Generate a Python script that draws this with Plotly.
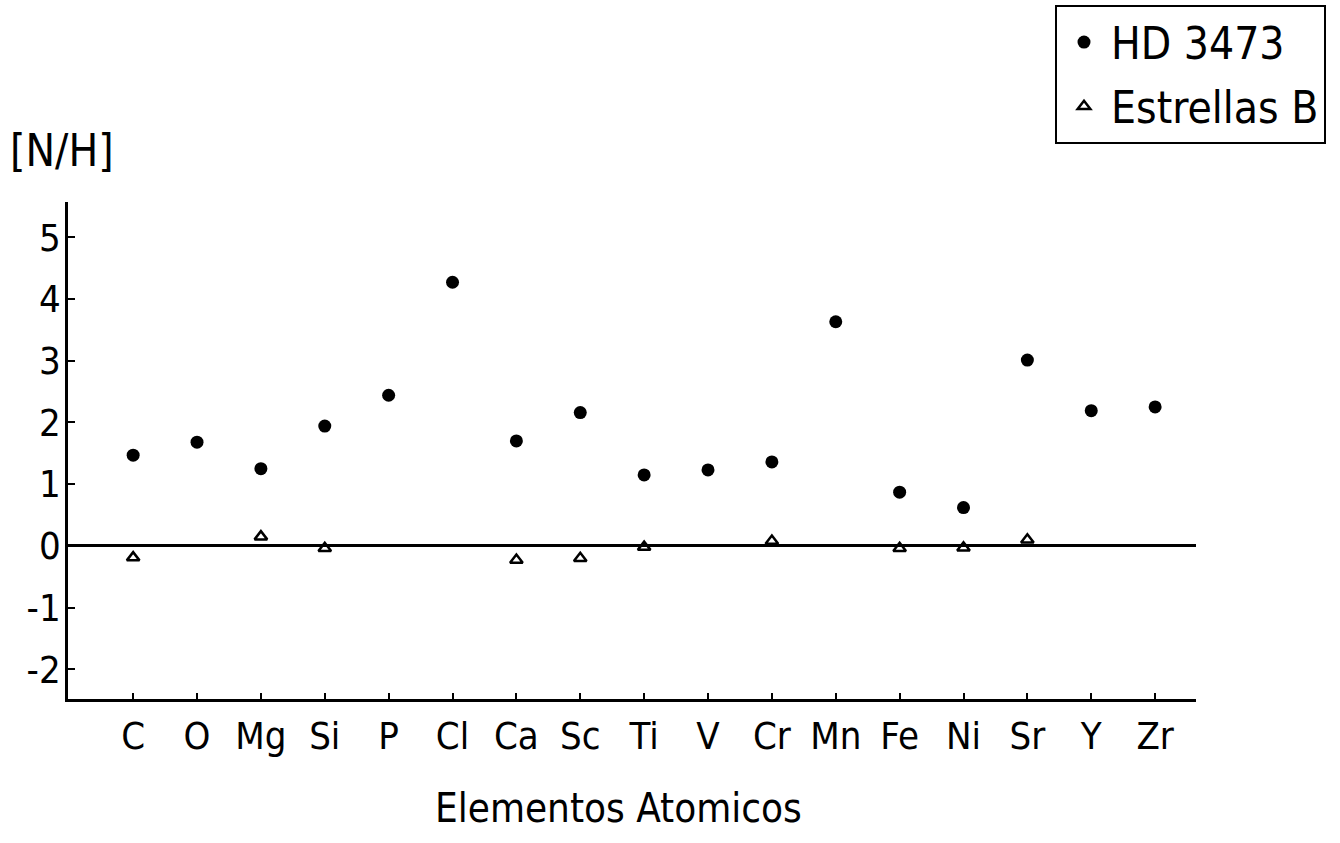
import plotly.graph_objects as go

elements = ["C", "O", "Mg", "Si", "P", "Cl", "Ca", "Sc", "Ti", "V",
            "Cr", "Mn", "Fe", "Ni", "Sr", "Y", "Zr"]
hd3473 = [1.47, 1.68, 1.25, 1.94, 2.44, 4.27, 1.70, 2.16, 1.15, 1.23,
          1.36, 3.63, 0.87, 0.62, 3.01, 2.19, 2.25]
b_elements = ["C", "Mg", "Si", "Ca", "Sc", "Ti", "Cr", "Fe", "Ni", "Sr"]
b_stars = [-0.19, 0.15, -0.04, -0.23, -0.20, -0.02, 0.08, -0.04, -0.03, 0.10]
y_ticks = [-2, -1, 0, 1, 2, 3, 4, 5]
y_ticktext = ["-2", "-1", "0", "1", "2", "3", "4", "5"]

FONT = "DejaVu Sans Condensed, Liberation Sans Narrow, Liberation Sans, sans-serif"

idx = {e: i for i, e in enumerate(elements)}
fig = go.Figure()
fig.add_trace(go.Scatter(
    x=[idx[e] for e in elements], y=hd3473, mode="markers", name="HD 3473",
    legendgroup="a",
    marker=dict(symbol="circle", size=13, color="black"),
))
fig.add_trace(go.Scatter(
    x=[idx[e] for e in b_elements], y=b_stars, mode="markers", name="Estrellas B",
    legendgroup="b",
    marker=dict(symbol="triangle-up-open", size=11, color="black",
                line=dict(width=2.5, color="black")),
))

fig.update_layout(
    width=1340, height=843,
    margin=dict(l=68, r=144, t=202, b=144, autoexpand=False),
    paper_bgcolor="white", plot_bgcolor="white",
    font=dict(family=FONT, color="black", size=38),
    showlegend=True,
    legend=dict(x=(1055 - 68) / 1128, y=(699 - 5) / 497,
                xanchor="left", yanchor="top",
                bordercolor="black", borderwidth=2, bgcolor="white",
                font=dict(size=44, family=FONT), tracegroupgap=4,
                itemwidth=44),
    xaxis=dict(range=[-1.02, 16.64], tickmode="array",
               tickvals=list(range(len(elements))), ticktext=elements,
               showline=True, linecolor="black", linewidth=2.5,
               ticks="inside", ticklen=6, tickwidth=2, tickcolor="black",
               showgrid=False, zeroline=False, ticklabelstandoff=2,
               tickfont=dict(size=38)),
    yaxis=dict(range=[-2.48, 5.57], tickmode="array",
               tickvals=y_ticks, ticktext=y_ticktext,
               showline=True, linecolor="black", linewidth=2.5,
               ticks="inside", ticklen=7, tickwidth=2, tickcolor="black",
               showgrid=False, zeroline=True, zerolinecolor="black",
               zerolinewidth=2.5, ticklabelstandoff=-3,
               tickfont=dict(size=38)),
    annotations=[
        dict(text="[N/H]", xref="paper", yref="paper",
             x=(62 - 68) / 1128, y=(699 - 150) / 497,
             xanchor="center", yanchor="middle", showarrow=False,
             font=dict(size=44, family=FONT)),
        dict(text="Elementos Atomicos", xref="paper", yref="paper",
             x=(618 - 68) / 1128, y=(699 - 808) / 497,
             xanchor="center", yanchor="middle", showarrow=False,
             font=dict(size=40, family=FONT)),
    ],
)

fig.write_html("out.html")
